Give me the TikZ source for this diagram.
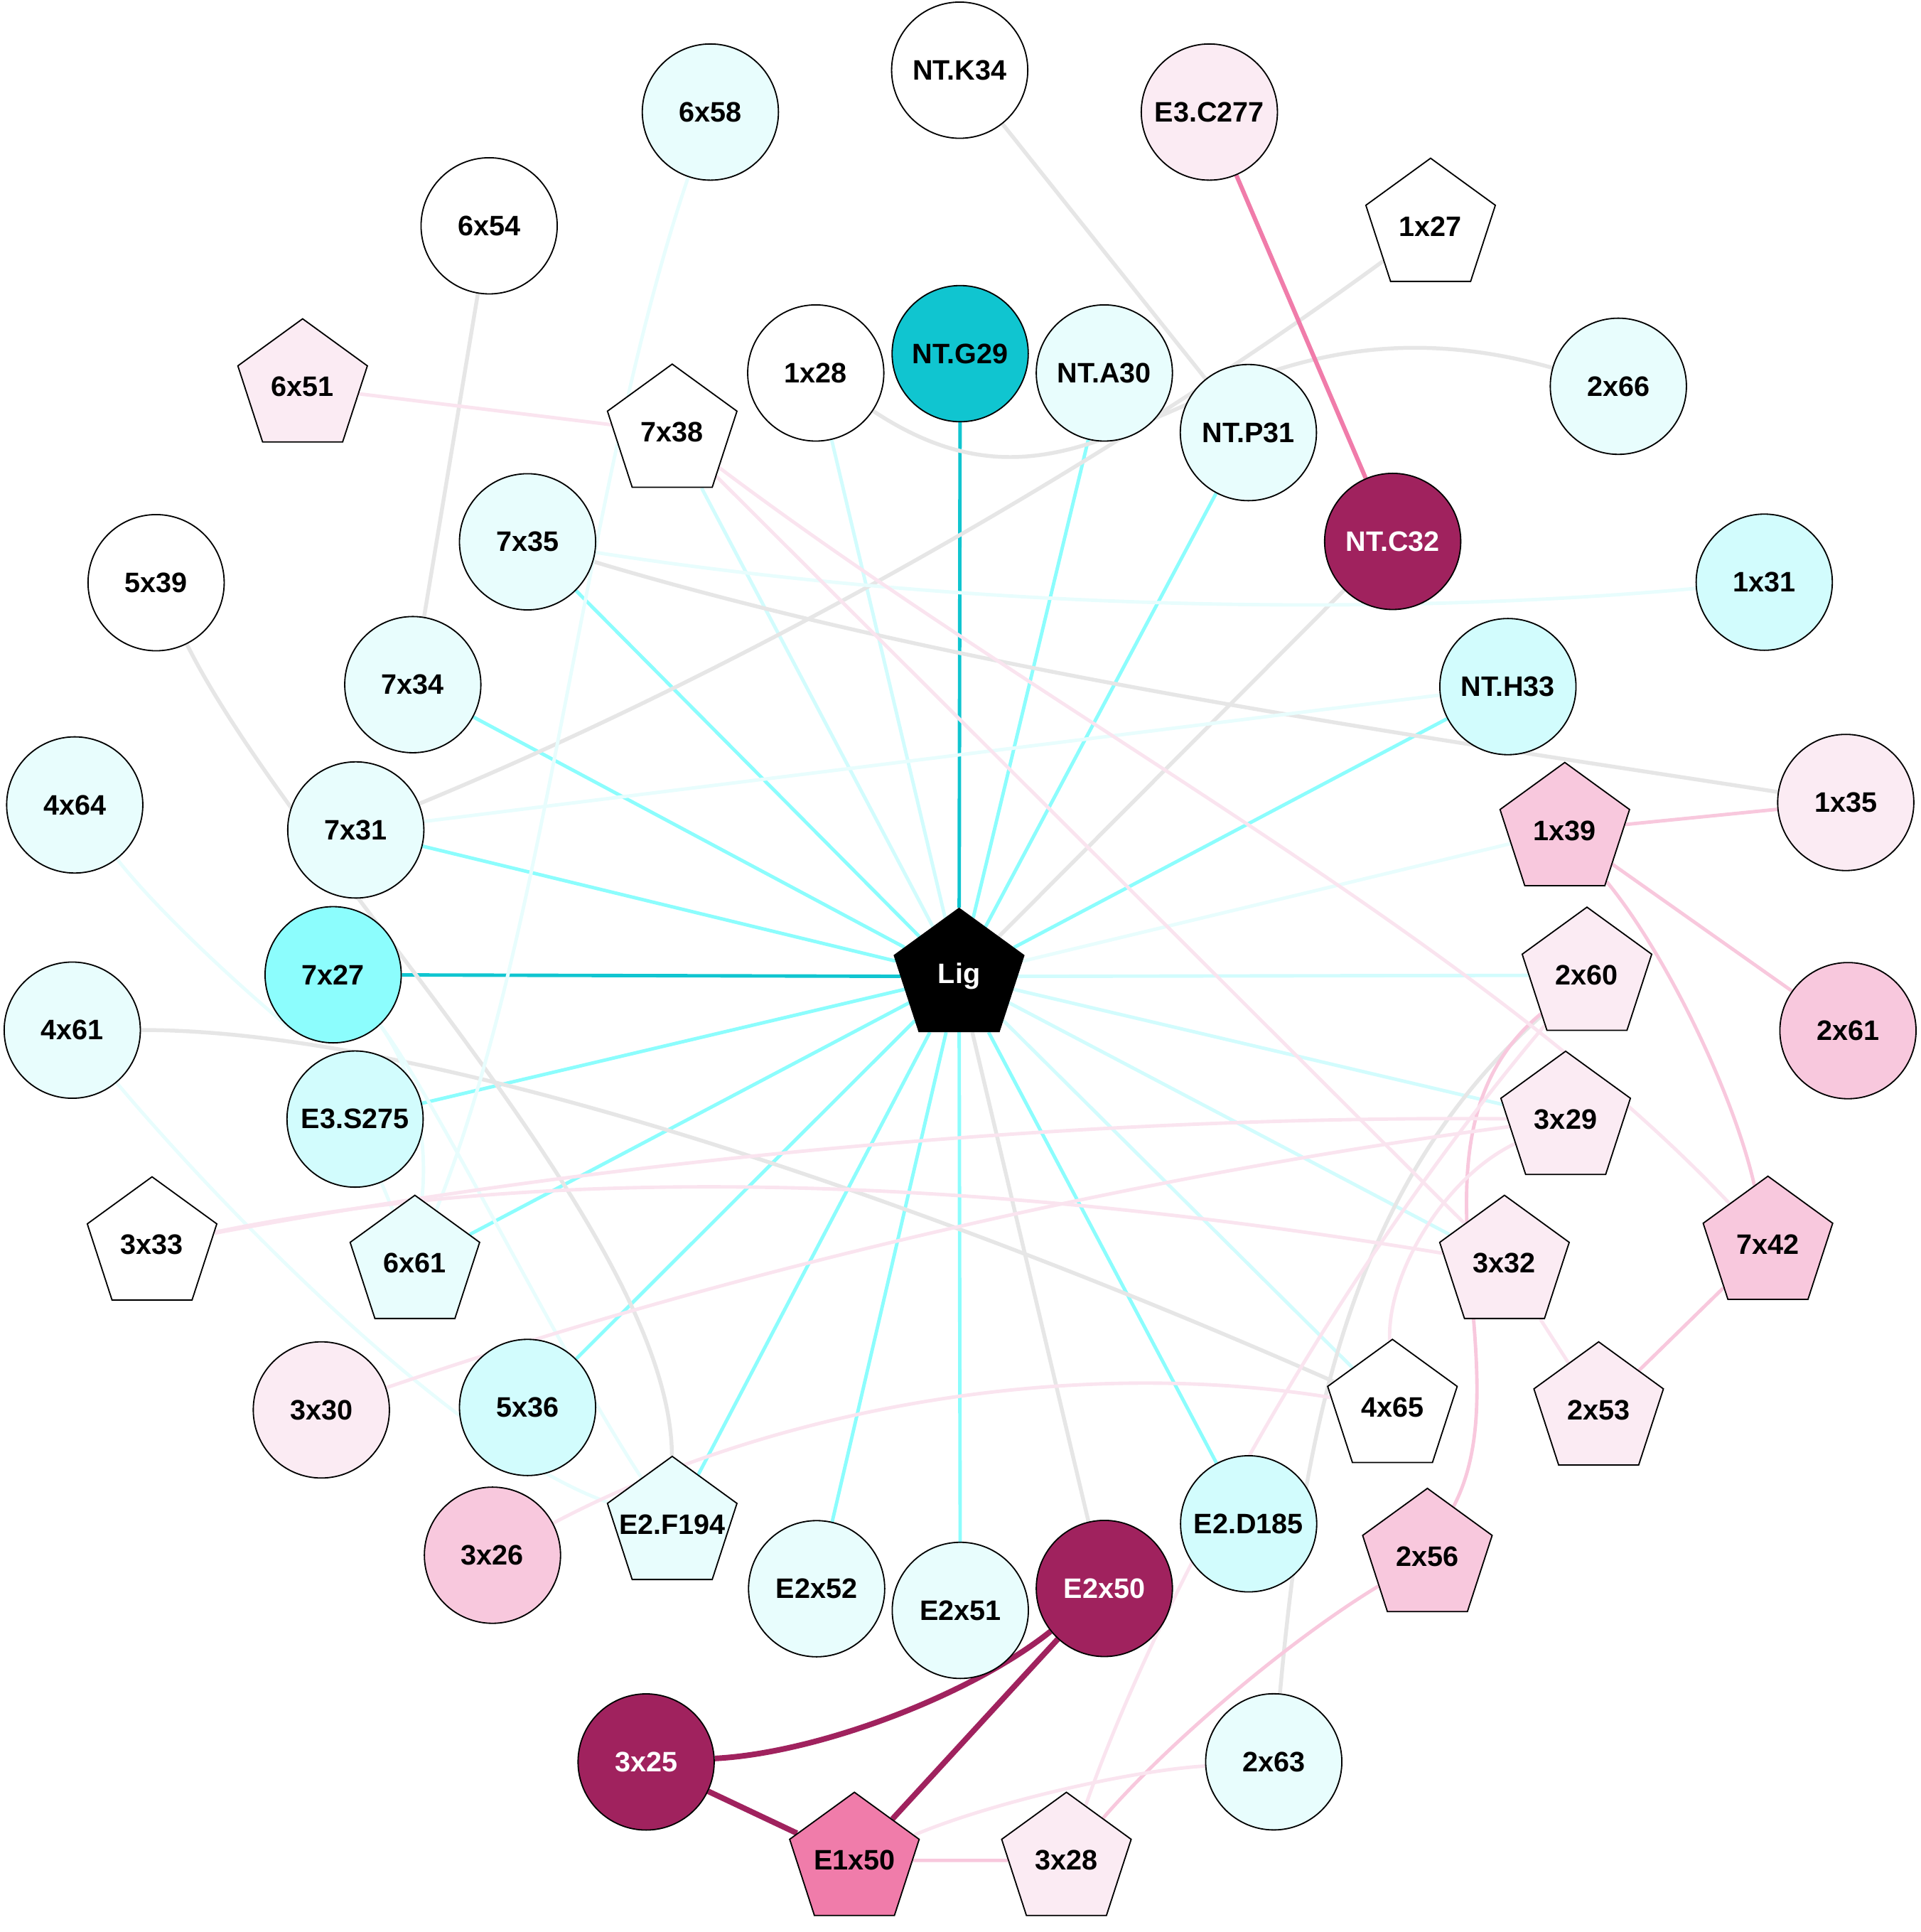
\documentclass[tikz,border=0pt]{standalone}
\usepackage{fontspec}
\setmainfont{Liberation Sans}
\usepackage{tikz}
\usetikzlibrary{shapes.geometric,backgrounds}
\definecolor{dcy}{HTML}{10C5D0}
\definecolor{cy}{HTML}{8CFDFD}
\definecolor{mcy}{HTML}{D2FCFD}
\definecolor{lcy}{HTML}{E8FDFD}
\definecolor{lpk}{HTML}{FBEBF3}
\definecolor{lpke}{HTML}{FAE4EF}
\definecolor{pk}{HTML}{F8C8DD}
\definecolor{mpk}{HTML}{F07CAA}
\definecolor{dmg}{HTML}{A0225E}
\definecolor{gry}{HTML}{E6E6E6}
\begin{document}
\begin{tikzpicture}[x=0.1mm,y=-0.1mm,
    res/.style={circle,draw=black,line width=0.3pt,minimum size=11.06mm,inner sep=0pt,
      font=\fontsize{6.5}{7}\selectfont\bfseries},
    pent/.style={res,regular polygon,regular polygon sides=5},
    edge/.style={line width=0.8pt}]
    \useasboundingbox (0,0) rectangle (1560,1569);
    \foreach \nm/\lb/\x/\y in {NTK34/NT.K34/779.5/57,r6x54/6x54/397.3/183.4,r1x28/1x28/662.6/302.9,r5x39/5x39/126.8/473.2}
    \node[res,fill=white] (\nm) at (\x,\y) {\lb};
    \foreach \nm/\lb/\x/\y in {r1x27/1x27/1162/183.8,r7x38/7x38/546/351,r3x33/3x33/123.5/1011,r4x65/4x65/1131/1143}
    \node[pent,fill=white] (\nm) at (\x,\y) {\makebox[0pt]{\lb}};
    \foreach \nm/\lb/\x/\y in {r6x58/6x58/577/91,NTA30/NT.A30/897/302.9,r2x66/2x66/1314.5/313.7,NTP31/NT.P31/1014/351.3,
      r7x35/7x35/428.5/440,r7x34/7x34/335.3/556,r4x64/4x64/60.7/653.7,r7x31/7x31/289/674,r4x61/4x61/58.7/836.6,
      E2x52/E2x52/663.3/1290.2,E2x51/E2x51/780/1307.8,r2x63/2x63/1034.6/1430.8}
    \node[res,fill=lcy] (\nm) at (\x,\y) {\lb};
    \foreach \nm/\lb/\x/\y in {r6x61/6x61/337/1026,E2F194/E2.F194/546/1238}
    \node[pent,fill=lcy] (\nm) at (\x,\y) {\makebox[0pt]{\lb}};
    \foreach \nm/\lb/\x/\y in {r1x31/1x31/1433/472.8,NTH33/NT.H33/1224.8/557.6,E3S275/E3.S275/288.4/908.8,
      r5x36/5x36/428.5/1143,E2D185/E2.D185/1014.2/1237.5}
    \node[res,fill=mcy] (\nm) at (\x,\y) {\lb};
    \node[res,fill=cy] (r7x27) at (270.6,791.6) {7x27};
    \node[res,fill=dcy] (NTG29) at (779.9,287.2) {NT.G29};
    \foreach \nm/\lb/\x/\y in {E3C277/E3.C277/982.3/91,r1x35/1x35/1499.2/651.7,r3x30/3x30/261/1145}
    \node[res,fill=lpk] (\nm) at (\x,\y) {\lb};
    \foreach \nm/\lb/\x/\y in {r6x51/6x51/245.8/314.2,r2x60/2x60/1289/792,r3x29/3x29/1271.7/909,
      r3x32/3x32/1222/1026,r2x53/2x53/1298.5/1145,r3x28/3x28/866.2/1510.8}
    \node[pent,fill=lpk] (\nm) at (\x,\y) {\makebox[0pt]{\lb}};
    \foreach \nm/\lb/\x/\y in {r2x61/2x61/1501/837,r3x26/3x26/400/1263}
    \node[res,fill=pk] (\nm) at (\x,\y) {\lb};
    \foreach \nm/\lb/\x/\y in {r1x39/1x39/1271/674.5,r7x42/7x42/1436/1010.5,r2x56/2x56/1159.4/1264}
    \node[pent,fill=pk] (\nm) at (\x,\y) {\makebox[0pt]{\lb}};
    \node[pent,fill=mpk] (E1x50) at (694,1510.8) {\makebox[0pt]{E1x50}};
    \foreach \nm/\lb/\x/\y in {NTC32/NT.C32/1131.2/439.7,E2x50/E2x50/897/1290,r3x25/3x25/524.8/1430.9}
    \node[res,fill=dmg,text=white] (\nm) at (\x,\y) {\lb};
    \node[pent,fill=black,text=white] (Lig) at (779,793) {\makebox[0pt]{Lig}};
    \begin{scope}[on background layer]
    \foreach \t in {NTG29,r7x27}
    \draw[edge,dcy] (Lig) -- (\t);
    \foreach \t in {NTA30,NTP31,NTH33,r7x35,r7x34,r7x31,E3S275,r6x61,r5x36,E2F194,E2x52,E2x51,E2D185}
    \draw[edge,cy] (Lig) -- (\t);
    \foreach \t in {r1x28,r7x38,r4x65,r3x32,r3x29,r2x60}
    \draw[edge,mcy] (Lig) -- (\t);
    \draw[edge,lcy] (Lig) -- (r1x39);
    \foreach \t in {NTC32,E2x50}
    \draw[edge,gry,line width=0.9pt] (Lig) -- (\t);
    \draw[edge,gry,line width=0.9pt] (NTK34) -- (NTP31);
    \draw[edge,gry,line width=0.9pt] (r6x54) -- (r7x34);
    \draw[edge,gry,line width=0.9pt] (r1x27) .. controls (890.8,382.1) and (599.8,545.5) .. (r7x31);
    \draw[edge,gry,line width=0.9pt] (r1x28) .. controls (900,460) and (980,220) .. (r2x66);
    \draw[edge,gry,line width=0.9pt] (r7x35) .. controls (778.5,545) and (1139.3,596) .. (r1x35);
    \draw[edge,gry,line width=0.9pt] (r5x39) .. controls (240,700) and (545,1000) .. (E2F194);
    \draw[edge,gry,line width=0.9pt] (r4x61) .. controls (350,836) and (750,975) .. (r4x65);
    \draw[edge,gry,line width=0.9pt] (r2x60) .. controls (1100,960) and (1060,1150) .. (r2x63);
    \draw[edge,lcy] (r7x31) -- (NTH33);
    \draw[edge,lcy] (E3S275) -- (r6x61);
    \draw[edge,lcy] (r7x35) .. controls (763.3,492.2) and (1098.2,503.2) .. (r1x31);
    \draw[edge,lcy] (r6x58) .. controls (475,391) and (445,756) .. (r6x61);
    \draw[edge,lcy] (r4x64) .. controls (129,741) and (198,804) .. (r7x27.232);
    \draw[edge,lcy] (r7x27.313) .. controls (337,872) and (348,925) .. (r6x61);
    \draw[edge,lcy] (r7x27.313) .. controls (350,885) and (455,1100) .. (E2F194);
    \draw[edge,lcy] (r4x61) .. controls (194,997) and (378,1180) .. (E2F194);
    \draw[edge,mpk,line width=1pt] (E3C277) -- (NTC32);
    \foreach \s/\t in {r1x39/r1x35,r1x39/r2x61,r7x42/r2x53,E1x50/r3x28}
    \draw[edge,pk] (\s) -- (\t);
    \draw[edge,pk] (r1x39) .. controls (1352.3,773.6) and (1407.3,885.6) .. (r7x42);
    \draw[edge,pk] (r2x60) .. controls (1130,925) and (1240,1110) .. (r2x56);
    \draw[edge,pk] (r2x56) .. controls (1048.8,1331) and (951,1413.2) .. (r3x28);
    \foreach \s/\t in {r6x51/r7x38,r7x38/r3x32,r3x32/r2x53}
    \draw[edge,lpke] (\s) -- (\t);
    \draw[edge,lpke] (r7x38) .. controls (850,580) and (1200,760) .. (r7x42);
    \draw[edge,lpke] (r3x33) .. controls (502.9,939.8) and (885.7,905.8) .. (r3x29);
    \draw[edge,lpke] (r3x33) .. controls (490.8,936) and (856.6,966) .. (r3x32);
    \draw[edge,lpke] (r3x30) .. controls (590,1032.5) and (926.9,953.9) .. (r3x29);
    \draw[edge,lpke] (r3x26) .. controls (630.3,1141.4) and (873.9,1101.4) .. (r4x65);
    \draw[edge,lpke] (r3x29) .. controls (1173.4,956.1) and (1126.5,1034.1) .. (r4x65);
    \draw[edge,lpke] (r2x60) .. controls (1080,1040) and (940,1300) .. (r3x28);
    \draw[edge,lpke] (E1x50) .. controls (802.9,1464.6) and (916.5,1438) .. (r2x63);
    \foreach \s/\t in {E2x50/E1x50,r3x25/E1x50}
    \draw[edge,dmg,line width=1.3pt] (\s) -- (\t);
    \draw[edge,dmg,line width=1.3pt] (E2x50) .. controls (788,1376.9) and (664,1423.8) .. (r3x25);
    \end{scope}
\end{tikzpicture}
\end{document}
